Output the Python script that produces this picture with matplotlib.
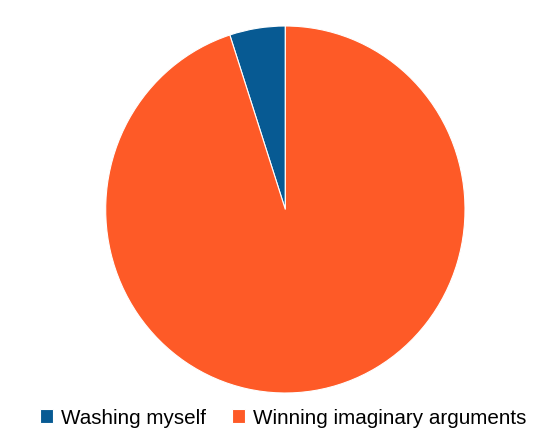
import matplotlib
matplotlib.use('Agg')
from matplotlib import pyplot as plt

labels = ['Washing myself', 'Winning imaginary arguments']
values = [5, 95]
colors = ['#075a93', '#fe5a27']

plt.rcParams['font.family'] = ['Liberation Sans', 'DejaVu Sans']

fig = plt.figure(figsize=(5.53, 4.45), dpi=100)
W, H = 553.0, 445.0
# pie box in pixels: left 105.7, right 465, top 26, bottom 393
ax = fig.add_axes([105.7/W, (H-393)/H, 359.3/W, 367/H])
wedges, _ = ax.pie(values, colors=colors, startangle=90, counterclock=True,
                   wedgeprops=dict(edgecolor='white', linewidth=0.8))
ax.set_aspect('auto')
ax.set_xlim(-1, 1)
ax.set_ylim(-1, 1)
ax.axis('off')

fig.legend(wedges, labels, loc='center left', bbox_to_anchor=(40/W, (H-418)/H),
           ncol=2, frameon=False, fontsize=14.9, borderpad=0, borderaxespad=0,
           handlelength=0.63, handleheight=0.63, handletextpad=0.38,
           columnspacing=1.25)

fig.savefig('out.png', dpi=100)
